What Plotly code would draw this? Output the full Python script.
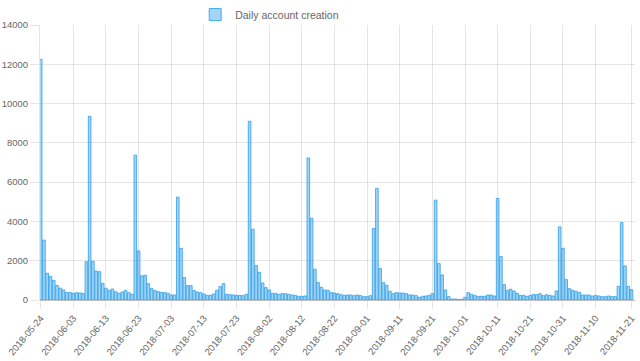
import pandas as pd
import plotly.graph_objects as go

start_date = "2018-05-24"
series_name = "Daily account creation"
daily_accounts = [
    12250, 3050, 1360, 1200, 1000, 740, 600, 510, 380, 380,
    340, 370, 360, 330, 1950, 9350, 1970, 1470, 1440, 840,
    600, 490, 560, 420, 340, 410, 480, 370, 290, 7370,
    2500, 1230, 1260, 830, 580, 480, 425, 390, 375, 340,
    255, 255, 5240, 2630, 1140, 730, 730, 476, 408, 374,
    306, 238, 238, 306, 493, 680, 833, 289, 272, 255,
    238, 238, 221, 289, 9100, 3600, 1750, 1410, 867, 629,
    510, 340, 340, 289, 323, 323, 289, 255, 238, 187,
    187, 204, 7230, 4165, 1564, 884, 646, 510, 493, 374,
    357, 323, 272, 238, 255, 255, 221, 255, 221, 170,
    170, 221, 3640, 5680, 1600, 884, 748, 442, 323, 374,
    357, 357, 323, 255, 255, 221, 136, 187, 204, 238,
    323, 5083, 1853, 1275, 510, 170, 51, 51, 34, 34,
    136, 374, 289, 238, 187, 187, 187, 255, 255, 204,
    5168, 2210, 782, 493, 544, 459, 340, 238, 238, 187,
    238, 272, 272, 323, 221, 272, 238, 204, 459, 3723,
    2635, 1037, 578, 493, 442, 391, 255, 255, 255, 204,
    238, 204, 170, 170, 204, 170, 170, 697, 3944, 1734,
    697, 527,
]
x_tick_labels = [
    "2018-05-24", "2018-06-03", "2018-06-13", "2018-06-23", "2018-07-03",
    "2018-07-13", "2018-07-23", "2018-08-02", "2018-08-12", "2018-08-22",
    "2018-09-01", "2018-09-11", "2018-09-21", "2018-10-01", "2018-10-11",
    "2018-10-21", "2018-10-31", "2018-11-10", "2018-11-21",
]
y_ticks = list(range(0, 14001, 2000))

dates = pd.date_range(start_date, periods=len(daily_accounts), freq="D")

font_family = "Liberation Sans, Arial, Helvetica, sans-serif"
grid = "rgba(0,0,0,0.1)"

fig = go.Figure()
fig.add_trace(go.Bar(
    x=dates, y=daily_accounts, name=series_name, showlegend=True,
    marker=dict(color="rgba(54,162,235,0.45)",
                line=dict(color="rgba(54,162,235,0.85)", width=1)),
))

fig.update_layout(
    width=640, height=361,
    margin=dict(l=40, r=5, t=25, b=61, autoexpand=False),
    paper_bgcolor="white", plot_bgcolor="white",
    font=dict(family=font_family, size=9.5, color="#666"),
    bargap=0.2,
    showlegend=True,
    legend=dict(orientation="h", x=0.305, xref="container", xanchor="left",
                y=1.0, yref="container", yanchor="top",
                font=dict(size=10.5, color="#666"),
                bgcolor="rgba(0,0,0,0)"),
    xaxis=dict(
        type="date",
        range=["2018-05-23 19:00", "2018-11-22 02:00"],
        tickvals=x_tick_labels, ticktext=x_tick_labels,
        tickangle=-50, showgrid=True, gridcolor=grid, gridwidth=1,
        ticks="outside", ticklen=8, tickcolor=grid,
        tickfont=dict(size=9.5, color="#666"),
        showline=False, zeroline=False, automargin=False,
    ),
    yaxis=dict(
        range=[0, 14000], tickvals=y_ticks, tickformat="d",
        showgrid=True, gridcolor=grid, gridwidth=1,
        ticks="outside", ticklen=9, tickcolor=grid,
        tickfont=dict(size=9.5, color="#666"),
        showline=True, linecolor=grid, linewidth=1,
        zeroline=True, zerolinecolor="rgba(0,0,0,0.25)", zerolinewidth=1,
        automargin=False,
    ),
)

fig.write_html("out.html", config={"displayModeBar": False},
               post_script="document.body.style.margin='0';")
